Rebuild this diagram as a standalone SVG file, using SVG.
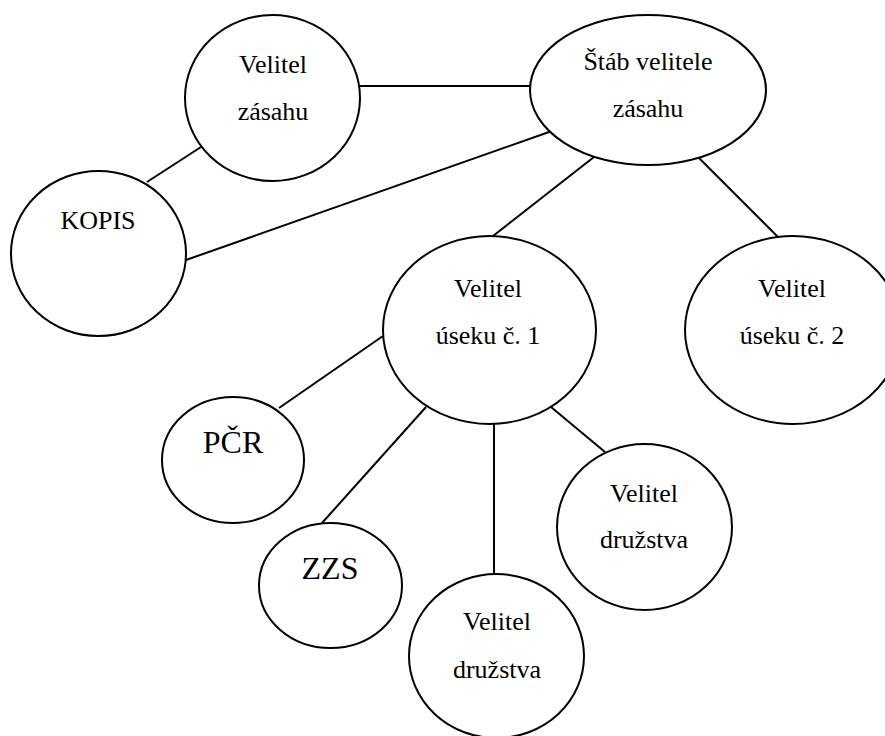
<svg xmlns="http://www.w3.org/2000/svg" width="885" height="736" viewBox="0 0 885 736">
<style>
.n{fill:#fff;stroke:#000;stroke-width:2}
.c line{stroke:#000;stroke-width:2}
text{font-family:"Liberation Serif","Times New Roman",serif;font-size:26px;fill:#000;text-anchor:middle}
.big{font-size:32px}
</style>
<rect width="885" height="736" fill="#fff"/>
<g class="c" id="connectors">
<line x1="360" y1="86" x2="530" y2="86"/>
<line x1="201" y1="147" x2="147" y2="182"/>
<line x1="186" y1="260" x2="552" y2="131"/>
<line x1="594" y1="157" x2="493" y2="236"/>
<line x1="698" y1="157" x2="778" y2="237"/>
<line x1="383" y1="336" x2="279" y2="408"/>
<line x1="426" y1="407" x2="322" y2="523"/>
<line x1="494" y1="424" x2="494" y2="573"/>
<line x1="551" y1="407" x2="605" y2="452"/>
</g>
<g id="velitel-zasahu">
<ellipse class="n" cx="272.5" cy="98" rx="87.5" ry="83"/>
<text x="273" y="73">Velitel</text>
<text x="273" y="120">zásahu</text>
</g>
<g id="stab">
<ellipse class="n" cx="648" cy="90" rx="118" ry="75"/>
<text x="648" y="70">Štáb velitele</text>
<text x="648" y="117">zásahu</text>
</g>
<g id="kopis">
<ellipse class="n" cx="98.5" cy="253.5" rx="87.5" ry="82.5"/>
<text x="98" y="229">KOPIS</text>
</g>
<g id="usek1">
<ellipse class="n" cx="489.5" cy="330" rx="106.5" ry="94"/>
<text x="488" y="297">Velitel</text>
<text x="488" y="344">úseku č. 1</text>
</g>
<g id="usek2">
<ellipse class="n" cx="793" cy="330" rx="108" ry="94"/>
<text x="792" y="297">Velitel</text>
<text x="792" y="344">úseku č. 2</text>
</g>
<g id="pcr">
<ellipse class="n" cx="233" cy="460" rx="71" ry="63"/>
<text class="big" x="233" y="453">PČR</text>
</g>
<g id="zzs">
<ellipse class="n" cx="330.5" cy="585.5" rx="71.5" ry="62.5"/>
<text class="big" x="330" y="579">ZZS</text>
</g>
<g id="druzstvo-right">
<ellipse class="n" cx="644.5" cy="527" rx="87.5" ry="83"/>
<text x="644" y="502">Velitel</text>
<text x="644" y="548">družstva</text>
</g>
<g id="druzstvo-bottom">
<ellipse class="n" cx="496.5" cy="656" rx="87.5" ry="82"/>
<text x="497" y="630">Velitel</text>
<text x="497" y="678">družstva</text>
</g>
</svg>
